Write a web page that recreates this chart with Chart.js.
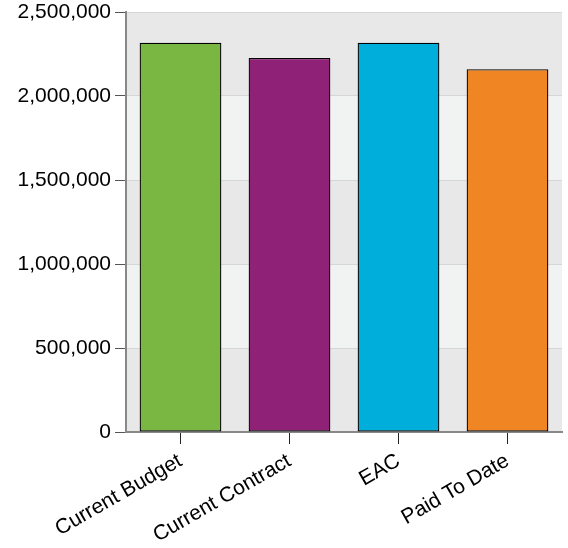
<!DOCTYPE html>
<html>
<head>
<meta charset="utf-8">
<script src="https://cdn.jsdelivr.net/npm/chart.js@4/dist/chart.umd.min.js"></script>
<style>
  html, body { margin: 0; padding: 0; background: #ffffff; }
  #wrap { width: 568px; height: 548px; }
</style>
</head>
<body>
<div id="wrap"><canvas id="c" width="568" height="548"></canvas></div>
<script>
// Budget summary values
const categories = ['Current Budget', 'Current Contract', 'EAC', 'Paid To Date'];
const amounts = [2317000, 2226000, 2317000, 2159000];
const barColors = ['#7AB642', '#8F2277', '#00AEDB', '#EF8623'];
const yTicks = [0, 500000, 1000000, 1500000, 2000000, 2500000];

// Alternating horizontal bands behind the bars
const bandPlugin = {
  id: 'bands',
  beforeDraw(chart) {
    const { ctx, chartArea, scales } = chart;
    const y = scales.y;
    const vals = y.ticks.map(t => t.value).sort((a, b) => b - a);
    ctx.save();
    for (let i = 0; i < vals.length - 1; i++) {
      const top = y.getPixelForValue(vals[i]);
      const bot = y.getPixelForValue(vals[i + 1]);
      ctx.fillStyle = (i % 2 === 0) ? '#e8e8e8' : '#f1f2f2';
      ctx.fillRect(chartArea.left, top, chartArea.right - chartArea.left, bot - top);
    }
    ctx.restore();
  }
};

const labelFont = { family: '"Liberation Sans", Arial, sans-serif', size: 21, lineHeight: 1.15 };

new Chart(document.getElementById('c'), {
  type: 'bar',
  data: {
    labels: categories,
    datasets: [{
      data: amounts,
      backgroundColor: barColors,
      borderColor: '#000000',
      borderWidth: 1.3,
      borderSkipped: false,
      categoryPercentage: 1,
      barPercentage: 0.75
    }]
  },
  options: {
    responsive: false,
    animation: false,
    devicePixelRatio: 1,
    layout: { padding: { top: 0, right: 6, left: 0, bottom: 0 } },
    plugins: {
      legend: { display: false },
      tooltip: { enabled: false }
    },
    scales: {
      x: {
        grid: {
          display: true,
          drawOnChartArea: false,
          offset: false,
          tickLength: 12,
          tickColor: '#222222',
          tickWidth: 1
        },
        border: { display: true, color: '#888888', width: 2 },
        ticks: {
          color: '#000000',
          font: labelFont,
          minRotation: 30,
          maxRotation: 30,
          padding: 5
        },
        afterFit(scale) { scale.height = 116; }
      },
      y: {
        min: 0,
        max: 2500000,
        afterBuildTicks(scale) { scale.ticks = yTicks.map(v => ({ value: v })); },
        grid: {
          color: '#d6d6d6',
          lineWidth: 1,
          tickLength: 11,
          tickColor: '#555555',
          tickWidth: 1
        },
        border: { display: true, color: '#888888', width: 2 },
        ticks: {
          color: '#000000',
          font: labelFont,
          padding: 4,
          callback: v => Number(v).toLocaleString('en-US')
        },
        afterFit(scale) {
          scale.width = 126;
          scale.paddingTop = 12;
        }
      }
    }
  },
  plugins: [bandPlugin]
});
</script>
</body>
</html>
